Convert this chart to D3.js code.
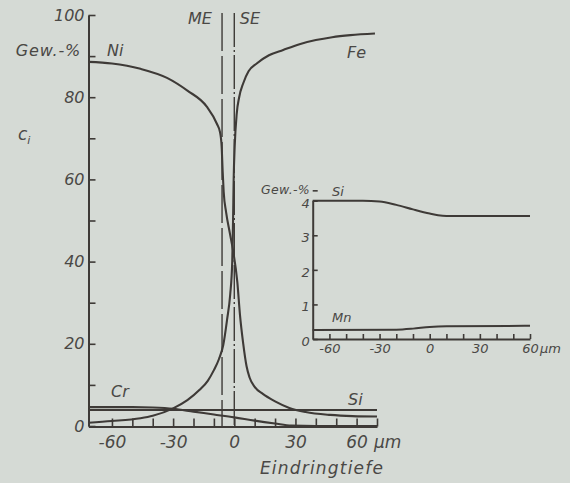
<!DOCTYPE html>
<html>
<head>
<meta charset="utf-8">
<script src="https://cdn.jsdelivr.net/npm/d3@7"></script>
<style>
  html, body { margin: 0; padding: 0; background: #d5dad5; }
  svg { display: block; }
  text { font-family: "DejaVu Sans", sans-serif; font-style: oblique; fill: #4a4845; }
</style>
</head>
<body>
<svg id="chart" width="570" height="483"></svg>
<script>
// Concentration profiles across the weld fusion boundary (µm, wt.-%)
const niDepth = [-71.5, -60, -46, -33, -23, -13.5, -8.6, -7, -6.2, -5.7, -5.2, -4, -2.2, -0.5, 1.5, 2.8, 4.4, 6, 7.5, 10, 14, 20, 27, 35, 47, 58, 70];
const niValue = [88.6, 88.2, 86.9, 84.7, 81.6, 77.7, 73.6, 71.5, 68, 62, 57, 52, 47, 42.4, 35, 27, 20, 14.6, 11.8, 9.5, 7.8, 6.0, 4.4, 3.4, 2.7, 2.4, 2.3];

const feDepth = [-71.5, -60, -46, -40, -30, -23, -17, -13, -10, -7.5, -5.4, -3.5, -2, -1, -0.6, -0.3, 0.2, 1.2, 2.4, 4.4, 7, 11, 17, 24, 32, 40, 48, 57, 69];
const feValue = [0.8, 1.2, 1.9, 2.5, 4.3, 6.3, 8.8, 11, 13.6, 16.3, 19.7, 26, 32, 40, 50, 60, 68, 76, 80, 83.4, 86.3, 88.2, 90.2, 91.5, 92.9, 93.9, 94.6, 95.1, 95.5];

const crDepth = [-71.5, -50, -40, -30, -20, -10, 0, 10, 20, 28, 40, 70];
const crValue = [4.6, 4.6, 4.5, 4.2, 3.5, 2.8, 2.1, 1.3, 0.6, 0.1, 0, 0];

const siDepth = [-71.5, 70];
const siValue = [3.9, 3.9];

// Detail: Si and Mn on an enlarged scale
const siDetailDepth = [-70, -40, -30, -20, -10, 0, 5, 10, 60];
const siDetailValue = [4.0, 4.0, 3.98, 3.88, 3.75, 3.63, 3.58, 3.56, 3.56];
const mnDepth = [-70, -20, -10, 0, 10, 60];
const mnValue = [0.26, 0.27, 0.3, 0.35, 0.37, 0.38];

// Boundaries: ME (fusion line) and SE
const boundaryME = -6;
const boundarySE = 0;

const mainYTicks = [0, 10, 20, 30, 40, 50, 60, 70, 80, 90, 100];
const mainYLabels = [0, 20, 40, 60, 80, 100];
const mainXTicks = [-60, -50, -40, -30, -20, -10, 0, 10, 20, 30, 40, 50, 60, 70];
const mainXLabels = [-60, -30, 0, 30, 60];
const insetYTicks = [0, 1, 2, 3, 4, 4.3];
const insetYLabels = [0, 1, 2, 3, 4];
const insetXTicks = [-60, -50, -40, -30, -20, -10, 0, 10, 20, 30, 40, 50, 60];
const insetXLabels = [-60, -30, 0, 30, 60];

const ink = "#3e3a37";
const svg = d3.select("#chart");

const x = d3.scaleLinear().domain([-71.5, 70]).range([88.5, 377]);
const y = d3.scaleLinear().domain([0, 100]).range([426, 15]);

const xi = d3.scaleLinear().domain([-70, 60]).range([312.7, 530]);
const yi = d3.scaleLinear().domain([0, 4]).range([339, 200.7]);

const zip = (a, b) => a.map((d, i) => [d, b[i]]);

function styleAxis(g, size) {
  g.select(".domain").attr("stroke", ink).attr("stroke-width", 2);
  g.selectAll(".tick line").attr("stroke", ink).attr("stroke-width", 1.6);
  g.selectAll(".tick text")
    .attr("font-family", "DejaVu Sans, sans-serif")
    .attr("font-style", "oblique")
    .attr("font-size", size)
    .attr("fill", "#4a4845");
}

// Main chart axes
const yAxis = d3.axisLeft(y).tickValues(mainYTicks).tickSizeInner(-7).tickSizeOuter(0).tickPadding(4)
  .tickFormat(d => mainYLabels.includes(d) ? d : "");
svg.append("g").attr("transform", "translate(88.5,0)").call(yAxis).call(g => styleAxis(g, 16));

const xAxis = d3.axisBottom(x).tickValues(mainXTicks).tickSizeInner(-8).tickSizeOuter(0).tickPadding(9)
  .tickFormat(d => mainXLabels.includes(d) ? (d < 0 ? "-" + (-d) : d) : "");
svg.append("g").attr("transform", "translate(0,426.5)").call(xAxis).call(g => styleAxis(g, 17));

// Boundary lines
svg.append("line").attr("x1", x(boundaryME)).attr("x2", x(boundaryME)).attr("y1", 13).attr("y2", 426)
  .attr("stroke", ink).attr("stroke-width", 1.4).attr("stroke-dasharray", "38,5");
svg.append("line").attr("x1", x(boundarySE)).attr("x2", x(boundarySE)).attr("y1", 13).attr("y2", 426)
  .attr("stroke", ink).attr("stroke-width", 1.4).attr("stroke-dasharray", "34,3,2,3");

// Main curves
const line = d3.line().x(d => x(d[0])).y(d => y(d[1])).curve(d3.curveMonotoneX);
[[siDepth, siValue], [crDepth, crValue], [feDepth, feValue], [niDepth, niValue]].forEach(([dx, dv]) => {
  svg.append("path").datum(zip(dx, dv)).attr("d", line)
    .attr("fill", "none").attr("stroke", ink).attr("stroke-width", 2.1);
});

// Main labels
const label = (t, px, py, size, anchor = "start", spacing = 0) =>
  svg.append("text").attr("x", px).attr("y", py).attr("font-size", size)
    .attr("text-anchor", anchor).attr("letter-spacing", spacing).text(t);

label("Gew.-%", 81, 56, 16, "end", 0.8);
label("Ni", 107, 56, 16);
label("Fe", 347, 58, 16);
label("ME", 200, 24, 16, "middle");
label("SE", 250, 24, 16, "middle");
label("Cr", 111, 397, 16);
label("Si", 348, 405, 16);
label("µm", 374, 448, 17);
label("Eindringtiefe", 322, 474, 17, "middle", 1.2);
const ci = svg.append("text").attr("x", 18).attr("y", 140).attr("font-size", 17);
ci.append("tspan").text("c");
ci.append("tspan").attr("font-size", 11).attr("dy", 4).text("i");

// Detail chart
const yiAxis = d3.axisLeft(yi).tickValues(insetYTicks).tickSizeInner(-5).tickSizeOuter(0).tickPadding(3)
  .tickFormat(d => insetYLabels.includes(d) ? d : "");
svg.append("g").attr("transform", "translate(312.7,0)").call(yiAxis).call(g => styleAxis(g, 13))
  .call(g => g.selectAll(".tick text").attr("dy", "0.5em"));

const xiAxis = d3.axisBottom(xi).tickValues(insetXTicks).tickSizeInner(-5).tickSizeOuter(0).tickPadding(5)
  .tickFormat(d => insetXLabels.includes(d) ? (d < 0 ? "-" + (-d) : d) : "");
svg.append("g").attr("transform", "translate(0,339)").call(xiAxis).call(g => styleAxis(g, 13));

const lineI = d3.line().x(d => xi(d[0])).y(d => yi(d[1])).curve(d3.curveMonotoneX);
[[siDetailDepth, siDetailValue], [mnDepth, mnValue]].forEach(([dx, dv]) => {
  svg.append("path").datum(zip(dx, dv)).attr("d", lineI)
    .attr("fill", "none").attr("stroke", ink).attr("stroke-width", 2);
});

label("Gew.-%", 310, 194, 12.5, "end", 0.3);
label("Si", 332, 196, 13);
label("Mn", 332, 322, 13);
label("µm", 540, 353, 13);
</script>
</body>
</html>
